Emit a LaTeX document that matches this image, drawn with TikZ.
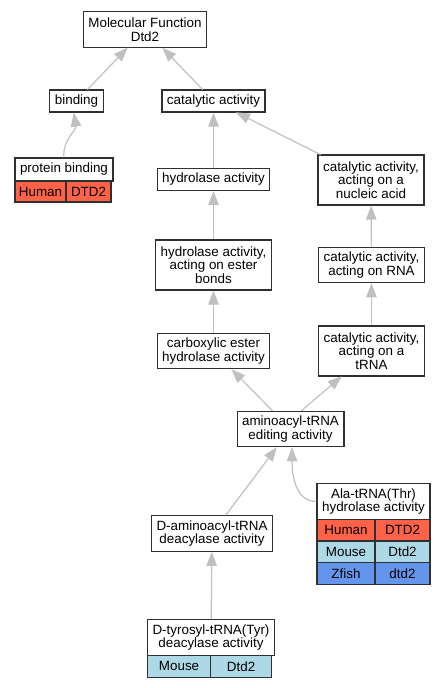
\documentclass[tikz,border=0pt]{standalone}
\usepackage{fontspec}
\setmainfont{Liberation Sans}
\usepackage{tikz}
\usetikzlibrary{calc}
\usetikzlibrary{positioning}
\usetikzlibrary{arrows.meta}
\definecolor{edgegray}{HTML}{C0C0C0}
\definecolor{borderdark}{HTML}{303030}
\definecolor{colorHuman}{HTML}{FF6347}
\definecolor{colorMouse}{HTML}{ADD8E6}
\definecolor{colorZfish}{HTML}{6495ED}
\tikzstyle{termnode} = [draw=borderdark, rectangle, line width=1.2pt, fill=white, align=center, inner xsep=5pt, inner ysep=0pt, outer sep=0pt, font=\fontsize{13.4}{13.5}\selectfont]
\tikzstyle{oneline} = [minimum height=22pt]
\tikzstyle{twoline} = [minimum height=35.5pt]
\tikzstyle{threeline} = [minimum height=50pt]
\tikzstyle{cellnode} = [draw=borderdark, rectangle, line width=1.2pt, anchor=north west, inner sep=0pt, outer sep=0pt, font=\fontsize{13.4}{13.5}\selectfont]
\tikzstyle{isa} = [draw=edgegray, line width=1.2pt, shorten >=0.6pt, shorten <=0.6pt, -{Triangle[length=14pt,width=10.5pt,fill=edgegray]}]

\begin{document}
\begin{tikzpicture}[x=1pt, y=-1pt]
\useasboundingbox (0,0) rectangle (445,688);
\node[termnode, twoline] (mol_func) at (145,29.5) {Molecular Function\\Dtd2};
\node[termnode, oneline] (binding) at ($(mol_func)+(-68.5,71.5)$) {binding};
\node[termnode, oneline] (cat_act) at ($(mol_func)+(68.5,71.5)$) {catalytic activity};
\node[termnode, minimum height=23pt, minimum width=96pt] (prot_bind) at ($(binding)+(-12.5,68.5)$) {protein binding};
\node[cellnode, fill=colorHuman, minimum width=51pt, minimum height=21pt] (prot_bind_sp1) at (prot_bind.south west) {Human};
\node[cellnode, fill=colorHuman, minimum width=45pt, minimum height=21pt] (prot_bind_gn1) at (prot_bind_sp1.north east) {DTD2};
\node[termnode, oneline] (hydro) at ($(cat_act)+(0,78.5)$) {hydrolase activity};
\node[termnode, threeline] (cat_nucl) at ($(cat_act)+(157.5,79)$) {catalytic activity,\\acting on a\\nucleic acid};
\node[termnode, threeline] (hydro_ester) at ($(hydro)+(0,85.5)$) {hydrolase activity,\\acting on ester\\bonds};
\node[termnode, twoline] (cat_rna) at ($(cat_nucl)+(0.5,85)$) {catalytic activity,\\acting on RNA};
\node[termnode, twoline] (carbox) at ($(hydro_ester)+(0,86)$) {carboxylic ester\\hydrolase activity};
\node[termnode, threeline] (cat_trna) at ($(cat_rna)+(0,86)$) {catalytic activity,\\acting on a\\tRNA};
\node[termnode, twoline] (amino_edit) at ($(carbox)+(77,78)$) {aminoacyl-tRNA\\editing activity};
\node[termnode, twoline, minimum width=113pt] (ala_thr) at ($(amino_edit)+(83,72.5)$) {Ala-tRNA(Thr)\\hydrolase activity};
\node[cellnode, fill=colorHuman, minimum width=58pt, minimum height=21.7pt] (ala_thr_sp1) at (ala_thr.south west) {Human};
\node[cellnode, fill=colorHuman, minimum width=55pt, minimum height=21.7pt] (ala_thr_gn1) at (ala_thr_sp1.north east) {DTD2};
\node[cellnode, fill=colorMouse, minimum width=58pt, minimum height=21.7pt] (ala_thr_sp2) at (ala_thr_sp1.south west) {Mouse};
\node[cellnode, fill=colorMouse, minimum width=55pt, minimum height=21.7pt] (ala_thr_gn2) at (ala_thr_sp2.north east) {Dtd2};
\node[cellnode, fill=colorZfish, minimum width=58pt, minimum height=21.7pt] (ala_thr_sp3) at (ala_thr_sp2.south west) {Zfish};
\node[cellnode, fill=colorZfish, minimum width=55pt, minimum height=21.7pt] (ala_thr_gn3) at (ala_thr_sp3.north east) {dtd2};
\node[termnode, twoline] (d_amino) at ($(amino_edit)+(-78.5,104.5)$) {D-aminoacyl-tRNA\\deacylase activity};
\node[termnode, twoline, minimum width=124pt] (d_tyr) at ($(d_amino)+(-1,104)$) {D-tyrosyl-tRNA(Tyr)\\deacylase activity};
\node[cellnode, fill=colorMouse, minimum width=63pt, minimum height=22pt] (d_tyr_sp1) at (d_tyr.south west) {Mouse};
\node[cellnode, fill=colorMouse, minimum width=61pt, minimum height=22pt] (d_tyr_gn1) at (d_tyr_sp1.north east) {Dtd2};
\draw[isa] (binding) -- (mol_func);
\draw[isa] (cat_act) -- (mol_func);
\draw[isa] (prot_bind.north) to[out=95,in=-80] (binding.-105);
\draw[isa] (hydro) -- (cat_act);
\draw[isa] (cat_nucl) -- (cat_act);
\draw[isa] (hydro_ester) -- (hydro);
\draw[isa] (cat_rna) -- (cat_nucl);
\draw[isa] (carbox) -- (hydro_ester);
\draw[isa] (cat_trna) -- (cat_rna);
\draw[isa] (amino_edit) -- (carbox);
\draw[isa] (amino_edit.60) -- (cat_trna);
\draw[isa] (d_amino) -- (amino_edit);
\draw[isa] (ala_thr.west) to[out=180,in=-90] (amino_edit.-85);
\draw[isa] (d_tyr) -- (d_amino);
\end{tikzpicture}
\end{document}
